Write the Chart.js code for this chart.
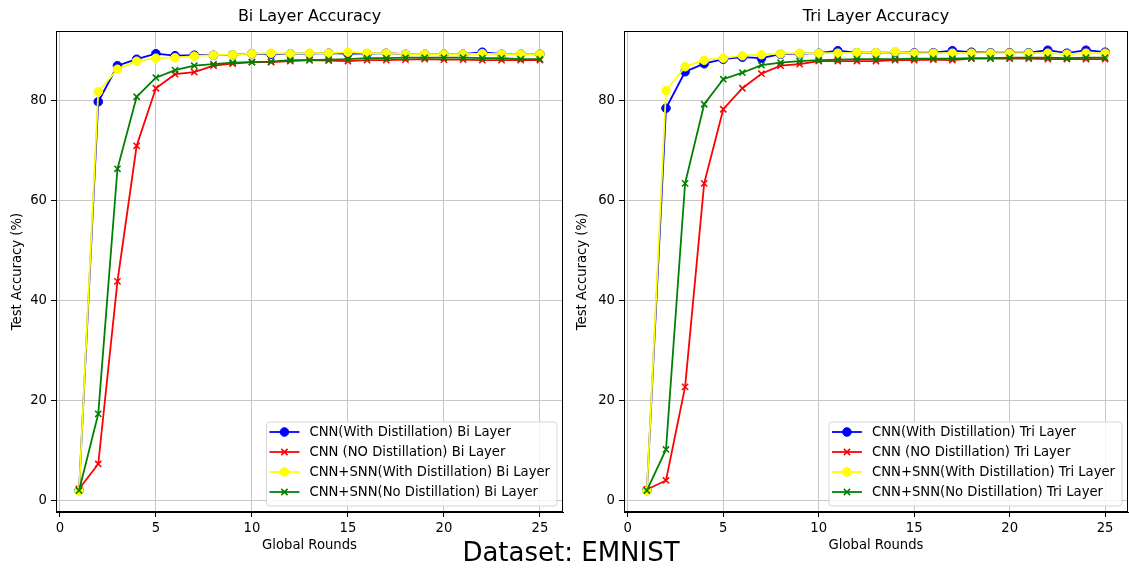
<!DOCTYPE html>
<html>
<head>
<meta charset="utf-8">
<script src="https://cdn.jsdelivr.net/npm/chart.js@4.4.0/dist/chart.umd.min.js"></script>
<style>
html,body{margin:0;padding:0;background:#fff;}
#wrap{position:relative;width:1129px;height:570px;overflow:hidden;background:#fff;}
.c{position:absolute;top:0;}
#sup{position:absolute;left:571px;top:539px;transform:translateX(-50%);font-family:"DejaVu Sans";font-size:26px;line-height:26px;color:#000;white-space:nowrap;}
</style>
</head>
<body>
<div id="wrap">
  <canvas id="c1" class="c" style="left:0" width="565" height="570"></canvas>
  <canvas id="c2" class="c" style="left:565px" width="564" height="570"></canvas>
  <div id="sup">Dataset: EMNIST</div>
</div>
<script>
// ---- data ----
const rounds = [1,2,3,4,5,6,7,8,9,10,11,12,13,14,15,16,17,18,19,20,21,22,23,24,25];
const xTickValues = [0,5,10,15,20,25];
const yTickValues = [0,20,40,60,80];

const biCnnDist     = [2.0,79.7,86.9,88.2,89.3,88.9,89.0,89.0,89.1,89.3,89.2,89.3,89.3,89.4,89.3,89.3,89.4,89.2,89.2,89.2,89.2,89.6,89.2,89.2,89.2];
const biCnnNoDist   = [2.3,7.3,43.8,70.9,82.4,85.2,85.6,86.9,87.3,87.6,87.6,87.8,88.0,87.9,87.8,88.0,88.0,88.1,88.2,88.1,88.1,88.0,88.0,88.0,88.0];
const biSnnDist     = [1.9,81.7,86.2,87.8,88.4,88.5,88.8,89.0,89.1,89.3,89.4,89.3,89.4,89.4,89.6,89.4,89.4,89.2,89.2,89.2,89.2,89.3,89.2,89.2,89.2];
const biSnnNoDist   = [2.0,17.3,66.3,80.7,84.5,86.0,86.9,87.2,87.5,87.6,87.7,88.0,88.0,88.1,88.2,88.4,88.4,88.5,88.5,88.5,88.5,88.4,88.4,88.2,88.2];

const triCnnDist    = [2.0,78.4,85.7,87.3,88.2,88.6,88.4,89.2,89.3,89.4,89.9,89.5,89.5,89.6,89.5,89.5,89.9,89.6,89.5,89.5,89.5,90.0,89.4,90.0,89.6];
const triCnnNoDist  = [2.2,4.0,22.7,63.4,78.2,82.4,85.3,86.9,87.2,87.8,87.8,87.8,87.8,88.0,88.0,88.1,88.0,88.3,88.3,88.3,88.3,88.2,88.2,88.2,88.2];
const triSnnDist    = [1.9,81.9,86.7,88.0,88.4,88.9,89.1,89.3,89.4,89.4,89.4,89.5,89.5,89.7,89.4,89.4,89.4,89.4,89.4,89.4,89.4,89.4,89.2,89.4,89.4];
const triSnnNoDist  = [2.0,10.2,63.4,79.2,84.2,85.5,87.0,87.5,87.8,88.0,88.1,88.2,88.2,88.2,88.3,88.3,88.3,88.4,88.4,88.5,88.5,88.5,88.4,88.5,88.5];

const biLabels  = ['CNN(With Distillation) Bi Layer','CNN (NO Distillation) Bi Layer','CNN+SNN(With Distillation) Bi Layer','CNN+SNN(No Distillation) Bi Layer'];
const triLabels = ['CNN(With Distillation) Tri Layer','CNN (NO Distillation) Tri Layer','CNN+SNN(With Distillation) Tri Layer','CNN+SNN(No Distillation) Tri Layer'];
const seriesColors = ['#0000ff','#ff0000','#ffff00','#008000'];
const seriesMarkers = ['circle','crossRot','circle','crossRot'];

// ---- rendering ----
const FONT = '"DejaVu Sans", sans-serif';
Chart.defaults.font.family = FONT;
Chart.defaults.color = '#000';

function drawMarker(ctx, style, x, y, color) {
  ctx.save();
  if (style === 'circle') {
    ctx.fillStyle = color; ctx.strokeStyle = color; ctx.lineWidth = 1;
    ctx.beginPath(); ctx.arc(x, y, 4.3, 0, Math.PI*2); ctx.fill(); ctx.stroke();
  } else {
    const r = 4.4 * Math.SQRT1_2;
    ctx.strokeStyle = color; ctx.lineWidth = 1.5;
    ctx.beginPath();
    ctx.moveTo(x-r, y-r); ctx.lineTo(x+r, y+r);
    ctx.moveTo(x-r, y+r); ctx.lineTo(x+r, y-r);
    ctx.stroke();
  }
  ctx.restore();
}

const framePlugin = {
  id: 'frameAndLegend',
  afterDraw(chart) {
    const ctx = chart.ctx, ca = chart.chartArea;
    ctx.save();
    ctx.strokeStyle = '#000'; ctx.lineWidth = 1;
    ctx.strokeRect(Math.round(ca.left)+0.5, Math.round(ca.top)+0.5, Math.round(ca.right-ca.left)-1, Math.round(ca.bottom-ca.top)-1);
    // legend
    const fs = 13.2;
    ctx.font = fs + 'px ' + FONT;
    const ds = chart.data.datasets;
    const tw = Math.max(...ds.map(d => ctx.measureText(d.label).width));
    const w = 43 + tw + 7, h = 84, rowH = 20;
    const right = ca.right - 6, bottom = ca.bottom - 6;
    const left = right - w, top = bottom - h;
    ctx.beginPath();
    const r = 3;
    ctx.moveTo(left+r, top); ctx.lineTo(right-r, top); ctx.quadraticCurveTo(right, top, right, top+r);
    ctx.lineTo(right, bottom-r); ctx.quadraticCurveTo(right, bottom, right-r, bottom);
    ctx.lineTo(left+r, bottom); ctx.quadraticCurveTo(left, bottom, left, bottom-r);
    ctx.lineTo(left, top+r); ctx.quadraticCurveTo(left, top, left+r, top);
    ctx.closePath();
    ctx.fillStyle = 'rgba(255,255,255,0.8)'; ctx.fill();
    ctx.strokeStyle = '#d6d6d6'; ctx.lineWidth = 1; ctx.stroke();
    ds.forEach((d, i) => {
      const cy = top + 10 + i*rowH;
      ctx.strokeStyle = d.borderColor; ctx.lineWidth = 1.8;
      ctx.beginPath(); ctx.moveTo(left+3, cy); ctx.lineTo(left+33, cy); ctx.stroke();
      drawMarker(ctx, d.pointStyle, left+18, cy, d.borderColor);
      ctx.fillStyle = '#000'; ctx.textBaseline = 'middle'; ctx.textAlign = 'left';
      ctx.font = fs + 'px ' + FONT;
      ctx.fillText(d.label, left+43, cy+0.5);
    });
    ctx.restore();
  }
};

function makeChart(id, titleText, seriesList, labels) {
  const datasets = seriesList.map((vals, i) => ({
    label: labels[i],
    data: rounds.map((r, k) => ({x: r, y: vals[k]})),
    borderColor: seriesColors[i],
    backgroundColor: seriesColors[i],
    borderWidth: 1.8,
    pointStyle: seriesMarkers[i],
    pointRadius: seriesMarkers[i] === 'circle' ? 4.3 : 4.4,
    pointBorderWidth: seriesMarkers[i] === 'circle' ? 1 : 1.5,
    pointBackgroundColor: seriesColors[i],
    pointBorderColor: seriesColors[i],
    tension: 0,
    fill: false,
    order: 3 - i
  }));
  return new Chart(document.getElementById(id), {
    type: 'line',
    data: { datasets },
    options: {
      responsive: false,
      animation: false,
      events: [],
      layout: { autoPadding: false, padding: { left: 0, right: id === 'c1' ? 2 : 1, top: 0, bottom: 0 } },
      plugins: {
        legend: { display: false },
        tooltip: { enabled: false },
        title: {
          display: true, text: titleText, fullSize: false,
          color: '#000', font: { size: 16, weight: 'normal', family: FONT },
          padding: { top: 7, bottom: 5 }
        }
      },
      scales: {
        x: {
          type: 'linear', min: -0.2, max: 26.2,
          afterBuildTicks: s => { s.ticks = xTickValues.map(v => ({value: v})); },
          afterFit: s => { s.height = 58; s.paddingLeft = 0; s.paddingRight = 0; },
          grid: { color: '#c6c6c6', lineWidth: 1, tickColor: '#000', tickLength: 5, drawTicks: true },
          border: { display: true, color: '#000', width: 1 },
          ticks: { color: '#000', font: { size: 13.2, family: FONT }, padding: 4, maxRotation: 0, autoSkip: false },
          title: { display: true, text: 'Global Rounds', color: '#000', font: { size: 13.2, family: FONT }, padding: { top: 0, bottom: 17 } }
        },
        y: {
          type: 'linear', min: -2.3, max: 93.8,
          afterBuildTicks: s => { s.ticks = yTickValues.map(v => ({value: v})); },
          afterFit: s => { s.width = id === 'c1' ? 56 : 59; s.paddingTop = 0; s.paddingBottom = 0; },
          grid: { color: '#c6c6c6', lineWidth: 1, tickColor: '#000', tickLength: 5, drawTicks: true },
          border: { display: true, color: '#000', width: 1 },
          ticks: { color: '#000', font: { size: 13.2, family: FONT }, padding: 4, autoSkip: false },
          title: { display: true, text: 'Test Accuracy (%)', color: '#000', font: { size: 13.2, family: FONT }, padding: { top: 10, bottom: 0 } }
        }
      }
    },
    plugins: [framePlugin]
  });
}

makeChart('c1', 'Bi Layer Accuracy', [biCnnDist, biCnnNoDist, biSnnDist, biSnnNoDist], biLabels);
makeChart('c2', 'Tri Layer Accuracy', [triCnnDist, triCnnNoDist, triSnnDist, triSnnNoDist], triLabels);
</script>
</body>
</html>
